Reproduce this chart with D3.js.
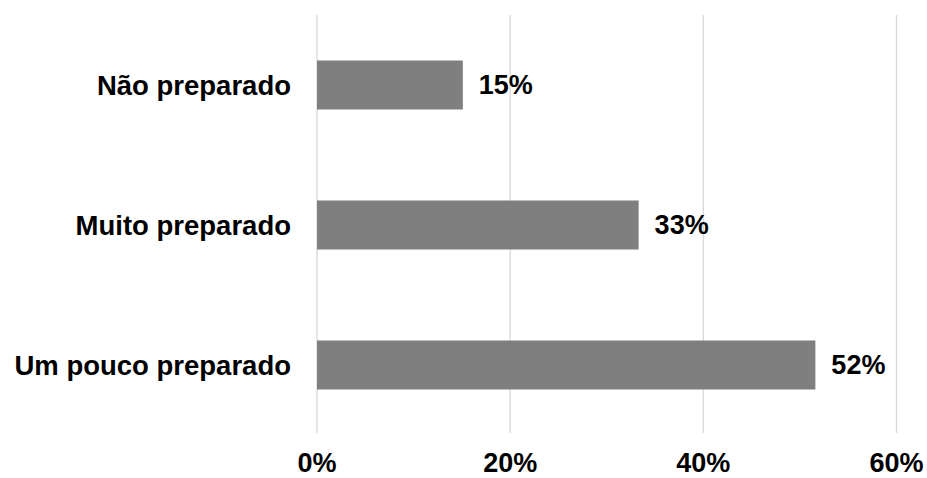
<!DOCTYPE html>
<html><head><meta charset="utf-8">
<script src="https://cdn.jsdelivr.net/npm/d3@7"></script>
<style>html,body{margin:0;padding:0;background:#fff;}svg{display:block;}</style>
</head><body>
<svg id="c" width="927" height="478"></svg>
<script>
const categories = ["Não preparado", "Muito preparado", "Um pouco preparado"];
const values = [0.151, 0.333, 0.516];
const valueLabels = ["15%", "33%", "52%"];
const ticks = [0, 0.2, 0.4, 0.6];
const tickLabels = ["0%", "20%", "40%", "60%"];

const svg = d3.select("#c");
const font = "'Liberation Sans', Arial, sans-serif";
const x = d3.scaleLinear().domain([0, 0.6]).range([317, 896.5]);
const y = d3.scaleBand().domain(categories).range([15, 435]).paddingInner(0.65).paddingOuter(0.325);

svg.append("g").selectAll("line").data(ticks).join("line")
  .attr("x1", d => x(d)).attr("x2", d => x(d))
  .attr("y1", 15).attr("y2", 433)
  .attr("stroke", "#d9d9d9").attr("stroke-width", 1.3);

svg.append("g").selectAll("rect").data(categories).join("rect")
  .attr("x", x(0)).attr("y", d => y(d))
  .attr("width", (d, i) => x(values[i]) - x(0))
  .attr("height", y.bandwidth())
  .attr("fill", "#7f7f7f");

svg.append("g").selectAll("text").data(categories).join("text")
  .attr("x", (d, i) => x(values[i]) + 16)
  .attr("y", d => y(d) + y.bandwidth() / 2)
  .attr("dy", "0.35em")
  .attr("font-family", font).attr("font-weight", "bold").attr("font-size", 27)
  .attr("fill", "#000")
  .text((d, i) => valueLabels[i]);

svg.append("g").selectAll("text").data(categories).join("text")
  .attr("x", 291)
  .attr("y", d => y(d) + y.bandwidth() / 2)
  .attr("dy", "0.35em")
  .attr("text-anchor", "end")
  .attr("font-family", font).attr("font-weight", "bold").attr("font-size", 27.5)
  .attr("fill", "#000")
  .text(d => d);

svg.append("g").selectAll("text").data(ticks).join("text")
  .attr("x", d => x(d)).attr("y", 472)
  .attr("text-anchor", "middle")
  .attr("font-family", font).attr("font-weight", "bold").attr("font-size", 27)
  .attr("fill", "#000")
  .text((d, i) => tickLabels[i]);
</script>
</body></html>
